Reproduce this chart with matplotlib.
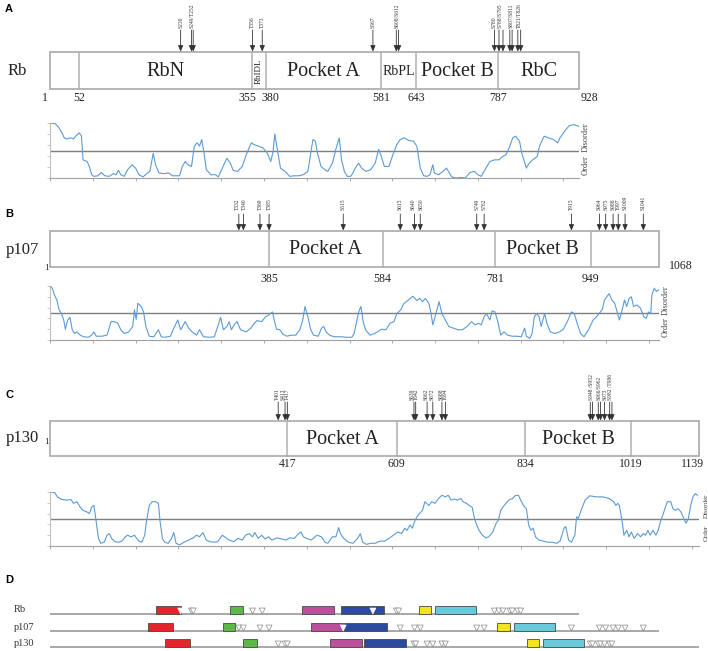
import matplotlib
matplotlib.use('Agg')
import matplotlib.pyplot as plt
from matplotlib.patches import Rectangle
import numpy as np

SERIF = ['Liberation Serif', 'DejaVu Serif']
SANS = ['Liberation Sans', 'DejaVu Sans']

# ---------------- data ----------------
rb_len = 928
rb_bounds = [1, 52, 355, 380, 581, 643, 787, 928]
rb_domains = ['', 'RbN', 'RbIDL', 'Pocket A', 'RbPL', 'Pocket B', 'RbC']
rb_sites = [230, 249, 252, 356, 373, 567, 608, 612, 780, 788, 795, 807, 811, 821, 826]
rb_site_labels = ['S230', 'S249/T252', 'T356', 'T373', 'S567', 'S608/S612',
                  'S780', 'S788/S795', 'S807/S811', 'T821/T826']
rb_label_pos = [230, 250, 356, 373, 567, 610, 780, 790, 809, 823]

p107_len = 1068
p107_bounds = [1, 385, 584, 781, 949, 1068]
p107_domains = ['', 'Pocket A', '', 'Pocket B', '']
p107_sites = [332, 340, 369, 385, 515, 615, 640, 650, 749, 762, 915,
              964, 975, 988, 997, 1009, 1041]
p107_site_labels = ['T332', 'T340', 'T369', 'T385', 'S515', 'S615', 'S640', 'S650',
                    'S749', 'S762', 'T915', 'S964', 'S975', 'S988', 'T997', 'S1009', 'S1041']
p107_label_pos = [330, 341, 369, 385, 515, 615, 638, 651, 749, 762, 915,
                  964, 975, 988, 998, 1009, 1041]

p130_len = 1139
p130_bounds = [1, 417, 609, 834, 1019, 1139]
p130_domains = ['', 'Pocket A', '', 'Pocket B', '']
p130_sites = [401, 413, 417, 639, 642, 662, 672, 688, 694, 948, 952, 962, 966, 973, 982, 986]
p130_site_labels = ['T401', 'S413', 'T417', 'S639', 'T642', 'S662', 'S672', 'S688', 'T694',
                    'S948 /S952', 'S966/S962', 'S973', 'S982 /T986']
p130_label_pos = [399, 409, 417, 636, 643, 660, 671, 686, 695, 950, 964, 974, 984]

# disorder profiles (residue, score)
rb_dis_pos = [1, 10, 17, 22, 26, 30, 38, 42, 46, 52, 56, 59, 66, 70, 74, 78, 85, 91, 97, 105,
              112, 117, 121, 125, 131, 137, 145, 151, 157, 164, 172, 176, 182, 186, 192, 200,
              209, 216, 228, 233, 238, 243, 249, 254, 259, 263, 267, 271, 275, 283, 291, 296,
              303, 311, 317, 322, 330, 338, 342, 346, 354, 358, 366, 374, 382, 388, 392, 395,
              399, 405, 413, 421, 429, 437, 445, 453, 459, 462, 466, 470, 476, 483, 488, 496,
              502, 508, 512, 517, 522, 528, 532, 536, 542, 547, 555, 563, 571, 577, 581, 587,
              595, 603, 609, 615, 622, 630, 638, 644, 650, 656, 662, 667, 672, 675, 682, 690,
              696, 701, 705, 713, 721, 729, 737, 745, 751, 757, 765, 772, 780, 788, 794, 800,
              806, 812, 817, 824, 828, 836, 841, 847, 855, 859, 867, 875, 883, 891, 895, 903,
              911, 919, 925, 928]
rb_dis_val = [1.00, 0.99, 0.91, 0.82, 0.73, 0.71, 0.73, 0.71, 0.76, 0.82, 0.77, 0.33, 0.30,
              0.21, 0.06, 0.03, 0.04, 0.10, 0.04, 0.03, 0.08, 0.06, 0.14, 0.06, 0.03, 0.15,
              0.24, 0.18, 0.06, 0.02, 0.09, 0.12, 0.45, 0.24, 0.09, 0.08, 0.09, 0.04, 0.04,
              0.21, 0.30, 0.24, 0.21, 0.58, 0.64, 0.58, 0.70, 0.45, 0.15, 0.06, 0.06, 0.02,
              0.18, 0.36, 0.27, 0.14, 0.12, 0.21, 0.33, 0.45, 0.64, 0.61, 0.58, 0.55, 0.45,
              0.30, 0.48, 0.80, 0.55, 0.18, 0.12, 0.03, 0.04, 0.04, 0.06, 0.12, 0.52, 0.70,
              0.67, 0.45, 0.21, 0.15, 0.12, 0.27, 0.52, 0.73, 0.33, 0.12, 0.03, 0.03, 0.09,
              0.18, 0.27, 0.18, 0.12, 0.15, 0.27, 0.52, 0.42, 0.21, 0.21, 0.45, 0.61, 0.70,
              0.73, 0.68, 0.67, 0.58, 0.18, 0.04, 0.03, 0.06, 0.24, 0.09, 0.06, 0.12, 0.18,
              0.09, 0.02, 0.00, 0.01, 0.00, 0.10, 0.12, 0.06, 0.03, 0.18, 0.30, 0.33, 0.33,
              0.39, 0.42, 0.55, 0.73, 0.76, 0.67, 0.45, 0.18, 0.27, 0.33, 0.39, 0.58, 0.76,
              0.73, 0.70, 0.64, 0.73, 0.85, 0.95, 0.97, 0.95, 0.94]

p107_dis_pos = [1, 5, 9, 13, 17, 21, 25, 28, 32, 36, 40, 44, 48, 54, 60, 68, 74, 78, 82, 92,
                101, 108, 114, 120, 125, 131, 139, 146, 149, 152, 155, 161, 165, 169, 175, 183,
                191, 196, 202, 212, 218, 225, 230, 238, 244, 250, 258, 263, 270, 281, 289, 296,
                300, 305, 311, 315, 319, 325, 329, 335, 345, 353, 359, 364, 372, 379, 384, 391,
                394, 398, 404, 409, 416, 424, 432, 439, 444, 448, 453, 458, 463, 471, 477, 481,
                485, 491, 499, 511, 522, 530, 534, 538, 542, 546, 550, 554, 562, 570, 575, 582,
                590, 597, 604, 609, 616, 621, 629, 637, 644, 649, 654, 659, 665, 669, 672, 676,
                683, 688, 694, 700, 708, 716, 724, 732, 740, 746, 752, 757, 762, 766, 772, 776,
                781, 786, 791, 797, 803, 811, 819, 827, 833, 836, 842, 846, 850, 854, 858, 862,
                868, 872, 878, 886, 894, 901, 909, 915, 920, 925, 931, 937, 945, 953, 959, 965,
                969, 973, 977, 981, 986, 991, 994, 999, 1004, 1008, 1012, 1016, 1020, 1024,
                1030, 1036, 1042, 1046, 1050, 1054, 1056, 1060, 1064, 1068]
p107_dis_val = [1.00, 0.96, 0.83, 0.74, 0.56, 0.49, 0.37, 0.20, 0.37, 0.42, 0.19, 0.12, 0.15,
                0.09, 0.06, 0.05, 0.09, 0.15, 0.07, 0.07, 0.09, 0.34, 0.34, 0.31, 0.19, 0.12,
                0.15, 0.25, 0.56, 0.38, 0.68, 0.62, 0.52, 0.25, 0.07, 0.06, 0.19, 0.06, 0.05,
                0.07, 0.22, 0.37, 0.19, 0.34, 0.22, 0.15, 0.09, 0.19, 0.06, 0.05, 0.06, 0.28,
                0.42, 0.19, 0.25, 0.34, 0.19, 0.30, 0.34, 0.19, 0.15, 0.22, 0.31, 0.36, 0.34,
                0.43, 0.46, 0.52, 0.37, 0.20, 0.19, 0.11, 0.07, 0.09, 0.09, 0.19, 0.37, 0.62,
                0.43, 0.19, 0.09, 0.07, 0.22, 0.25, 0.15, 0.09, 0.06, 0.06, 0.05, 0.05, 0.12,
                0.31, 0.52, 0.62, 0.34, 0.19, 0.09, 0.12, 0.15, 0.20, 0.19, 0.31, 0.34, 0.49,
                0.56, 0.67, 0.74, 0.81, 0.73, 0.77, 0.71, 0.77, 0.68, 0.49, 0.28, 0.43, 0.71,
                0.49, 0.37, 0.25, 0.22, 0.19, 0.19, 0.25, 0.34, 0.28, 0.31, 0.28, 0.43, 0.49,
                0.37, 0.54, 0.52, 0.34, 0.09, 0.15, 0.09, 0.07, 0.07, 0.06, 0.22, 0.07, 0.03,
                0.12, 0.43, 0.49, 0.44, 0.25, 0.49, 0.31, 0.15, 0.12, 0.15, 0.20, 0.37, 0.52,
                0.49, 0.31, 0.12, 0.06, 0.19, 0.37, 0.43, 0.51, 0.57, 0.74, 0.80, 0.86, 0.74,
                0.68, 0.56, 0.37, 0.56, 0.74, 0.62, 0.77, 0.80, 0.62, 0.65, 0.59, 0.43, 0.40,
                0.52, 0.49, 0.83, 0.96, 0.90, 0.93]

p130_dis_pos = [1, 9, 14, 22, 30, 38, 42, 48, 54, 59, 66, 70, 74, 78, 82, 86, 90, 96, 101, 105,
                109, 115, 121, 127, 133, 137, 143, 149, 153, 157, 162, 167, 170, 175, 180, 186,
                191, 194, 198, 202, 208, 214, 218, 222, 228, 236, 244, 252, 258, 263, 269, 275,
                281, 289, 295, 303, 307, 315, 323, 330, 338, 344, 350, 356, 360, 366, 372, 378,
                384, 390, 399, 407, 415, 421, 429, 437, 441, 445, 451, 459, 469, 477, 483, 488,
                496, 502, 507, 510, 516, 524, 532, 540, 545, 549, 556, 563, 571, 579, 587, 595,
                603, 611, 617, 623, 627, 632, 636, 641, 646, 654, 658, 665, 670, 676, 682, 688,
                694, 699, 704, 710, 715, 721, 725, 731, 737, 741, 745, 749, 753, 759, 765, 770,
                777, 783, 787, 791, 797, 805, 812, 816, 822, 826, 831, 836, 840, 844, 848, 852,
                858, 866, 873, 881, 889, 895, 902, 905, 910, 915, 921, 924, 927, 933, 939, 947,
                958, 970, 981, 989, 993, 996, 999, 1004, 1007, 1012, 1016, 1020, 1025, 1031,
                1036, 1041, 1045, 1049, 1053, 1058, 1063, 1067, 1071, 1077, 1083, 1089, 1093,
                1097, 1102, 1107, 1112, 1116, 1120, 1124, 1128, 1132, 1136]
p130_dis_val = [1.00, 0.99, 0.91, 0.86, 0.85, 0.86, 0.79, 0.82, 0.72, 0.66, 0.63, 0.60, 0.72,
                0.75, 0.45, 0.14, 0.05, 0.07, 0.20, 0.23, 0.14, 0.08, 0.07, 0.09, 0.17, 0.20,
                0.17, 0.20, 0.14, 0.09, 0.07, 0.20, 0.45, 0.75, 0.82, 0.82, 0.79, 0.45, 0.14,
                0.07, 0.05, 0.14, 0.25, 0.05, 0.02, 0.07, 0.11, 0.15, 0.20, 0.17, 0.25, 0.11,
                0.08, 0.07, 0.08, 0.20, 0.17, 0.11, 0.08, 0.14, 0.11, 0.20, 0.23, 0.17, 0.25,
                0.14, 0.20, 0.13, 0.17, 0.11, 0.15, 0.13, 0.11, 0.15, 0.14, 0.23, 0.26, 0.17,
                0.14, 0.11, 0.20, 0.17, 0.07, 0.05, 0.17, 0.17, 0.34, 0.23, 0.14, 0.07, 0.05,
                0.14, 0.23, 0.07, 0.03, 0.05, 0.05, 0.09, 0.09, 0.14, 0.20, 0.26, 0.23, 0.33,
                0.29, 0.39, 0.33, 0.48, 0.57, 0.66, 0.82, 0.75, 0.82, 0.79, 0.88, 0.94, 0.91,
                0.94, 0.85, 0.87, 0.85, 0.88, 0.82, 0.79, 0.74, 0.72, 0.51, 0.39, 0.29, 0.20,
                0.15, 0.17, 0.26, 0.42, 0.48, 0.66, 0.75, 0.85, 0.88, 0.93, 0.94, 0.85, 0.75,
                0.69, 0.39, 0.29, 0.33, 0.17, 0.11, 0.09, 0.07, 0.07, 0.05, 0.09, 0.33, 0.36,
                0.11, 0.07, 0.20, 0.54, 0.51, 0.69, 0.85, 0.93, 0.91, 0.91, 0.88, 0.82, 0.75,
                0.79, 0.75, 0.45, 0.20, 0.29, 0.17, 0.26, 0.14, 0.23, 0.17, 0.23, 0.20, 0.29,
                0.20, 0.29, 0.20, 0.29, 0.45, 0.63, 0.82, 0.82, 0.69, 0.66, 0.69, 0.63, 0.51,
                0.42, 0.51, 0.75, 0.91, 0.97, 0.94]

# panel D: binding/structural motifs (start, end residue) per protein
motif_colors = ['#e8232a', '#5cb947', '#b8509c', '#2c4b9e', '#f4e51b', '#68c9da']
rb_motif_start = [186, 317, 442, 511, 647, 676]
rb_motif_end = [230, 340, 498, 586, 668, 748]
p107_motif_start = [172, 304, 459, 516, 785, 814]
p107_motif_end = [216, 325, 514, 591, 808, 886]
p130_motif_start = [202, 339, 492, 552, 837, 865]
p130_motif_end = [246, 363, 548, 625, 859, 937]

# ---------------- layout ----------------
W, H = 708, 651
fig = plt.figure(figsize=(W / 100, H / 100), dpi=100)

X0 = 50
S = 0.5705  # px per residue


def rect(x0, y0, x1, y1):
    return [x0 / W, 1 - y1 / H, (x1 - x0) / W, (y1 - y0) / H]


def xend(L):
    return X0 + (L - 1) * S


ov = fig.add_axes([0, 0, 1, 1])
ov.set_xlim(0, W)
ov.set_ylim(H, 0)
ov.axis('off')


def track_axes(L):
    ax = fig.add_axes(rect(X0, 0, xend(L), H))
    ax.set_xlim(1, L)
    ax.set_ylim(H, 0)
    ax.axis('off')
    ax.patch.set_alpha(0)
    return ax


BOX_EC = '#b0b0b0'


def draw_protein(ax, L, bounds, names, sizes, box_top, box_bot,
                 sites, labels, label_pos, arrow_top, gap):
    ax.add_patch(Rectangle((1, box_top), L - 1, box_bot - box_top, fc='white',
                           ec=BOX_EC, lw=1.3, zorder=1, clip_on=False))
    for b in bounds[1:-1]:
        ax.plot([b, b], [box_top, box_bot], color=BOX_EC, lw=1.1, zorder=2,
                clip_on=False)
    ymid = (box_top + box_bot) / 2
    for i, nm in enumerate(names):
        if not nm:
            continue
        xc = (bounds[i] + bounds[i + 1]) / 2
        fs, rot = sizes[i]
        ax.text(xc, ymid + 1, nm, ha='center', va='center', fontsize=fs,
                rotation=rot, family=SERIF, color='#222', zorder=3)
    for s in sites:
        ax.annotate('', xy=(s, box_top - 0.5), xytext=(s, arrow_top),
                    arrowprops=dict(arrowstyle='-|>,head_length=0.5,head_width=0.22',
                                    color='#333', lw=0.6, shrinkA=0, shrinkB=0,
                                    mutation_scale=7),
                    annotation_clip=False)
    for lab, p in zip(labels, label_pos):
        ax.text(p, arrow_top - gap, lab, rotation=90, ha='center', va='bottom',
                fontsize=4, family=SERIF, color='#333')


def tick_label(ax, pos, y, txt, ha='center', dx=0.0, fs=8.5):
    ax.text(pos + dx / S, y, txt, ha=ha, va='center', fontsize=fs,
            family=SERIF, color='#222')


def disorder_axes(L, top, bot, pos, vals, fs=6):
    dax = fig.add_axes(rect(X0, top, xend(L), bot))
    dax.set_xlim(1, L)
    dax.set_ylim(0, 1)
    dax.patch.set_alpha(0)
    dax.plot(pos, vals, color='#5b9bd5', lw=0.8, zorder=3)
    dax.axhline(0.5, color='#7f7f7f', lw=1.0, zorder=2)
    for sp in ['top', 'right']:
        dax.spines[sp].set_visible(False)
    dax.spines['left'].set_color('#c0c0c0')
    dax.spines['bottom'].set_color('#a0a0a0')
    dax.spines['left'].set_linewidth(0.8)
    dax.spines['bottom'].set_linewidth(0.8)
    dax.set_xticks(np.arange(1, L + 1, 75))
    dax.set_yticks(np.linspace(0, 1, 6))
    dax.tick_params(axis='x', length=2.5, width=0.6, colors='#a0a0a0', labelbottom=False)
    dax.tick_params(axis='y', length=2, width=0.6, colors='#c0c0c0', labelleft=False)
    xr = L + 7 / S
    dax.text(xr, 0.74, 'Disorder', rotation=90, ha='center', va='center',
             fontsize=fs, family=SERIF, color='#444', clip_on=False)
    dax.text(xr, 0.24, 'Order', rotation=90, ha='center', va='center',
             fontsize=fs, family=SERIF, color='#444', clip_on=False)
    return dax


# ---------------- panel A ----------------
ov.text(5, 9, 'A', fontsize=8, fontweight='bold', family=SANS, va='center', ha='left')
ov.text(8, 71, 'Rb', fontsize=12, family=SERIF, va='center', ha='left', color='#222')
ax_rb = track_axes(rb_len)
rb_sizes = [(14.5, 0), (14.5, 0), (6.5, 90), (14.5, 0), (10, 0), (14.5, 0), (14.5, 0)]
draw_protein(ax_rb, rb_len, rb_bounds, rb_domains, rb_sizes, 52, 89,
             rb_sites, rb_site_labels, rb_label_pos, 30, 2)
for b in rb_bounds:
    if b == 1:
        tick_label(ax_rb, b, 98, '1', ha='right', dx=-2)
    elif b == 928:
        tick_label(ax_rb, b, 98, '928', ha='left', dx=2)
    elif b == 355:
        tick_label(ax_rb, b, 98, '355', ha='right', dx=4)
    elif b == 380:
        tick_label(ax_rb, b, 98, '380', ha='left', dx=-5)
    else:
        tick_label(ax_rb, b, 98, str(b))
disorder_axes(rb_len, 123, 178, rb_dis_pos, rb_dis_val)

# ---------------- panel B ----------------
ov.text(5, 214, 'B', fontsize=8, fontweight='bold', family=SANS, va='center', ha='left')
ov.text(6, 250, 'p107', fontsize=12, family=SERIF, va='center', ha='left', color='#222')
ax_107 = track_axes(p107_len)
pk_sizes = [(14.5, 0)] * 5
draw_protein(ax_107, p107_len, p107_bounds, p107_domains, pk_sizes, 231, 267,
             p107_sites, p107_site_labels, p107_label_pos, 214, 4)
tick_label(ax_107, 1, 268, '1', ha='right', dx=-1, fs=6.5)
tick_label(ax_107, p107_len, 266, '1068', ha='left', dx=10)
for b in p107_bounds[1:-1]:
    tick_label(ax_107, b, 279, str(b))
disorder_axes(p107_len, 286, 340, p107_dis_pos, p107_dis_val)

# ---------------- panel C ----------------
ov.text(5, 395, 'C', fontsize=8, fontweight='bold', family=SANS, va='center', ha='left')
ov.text(6, 438, 'p130', fontsize=12, family=SERIF, va='center', ha='left', color='#222')
ax_130 = track_axes(p130_len)
draw_protein(ax_130, p130_len, p130_bounds, p130_domains, pk_sizes, 421, 456,
             p130_sites, p130_site_labels, p130_label_pos, 402, 2)
tick_label(ax_130, 1, 442, '1', ha='right', dx=-1.5, fs=6.5)
for b in p130_bounds[1:]:
    if b == p130_len:
        tick_label(ax_130, b, 464, str(b), ha='right', dx=5)
    else:
        tick_label(ax_130, b, 464, str(b))
disorder_axes(p130_len, 492, 546, p130_dis_pos, p130_dis_val, fs=5)

# ---------------- panel D ----------------
ov.text(5, 580, 'D', fontsize=8, fontweight='bold', family=SANS, va='center', ha='left')


def motif_track(ax, L, line_y, starts, ends, sites, name):
    ov.text(14, line_y - 4, name, fontsize=7.5, family=SERIF, va='center',
            ha='left', color='#333')
    ax.plot([1, L], [line_y, line_y], color='#9a9a9a', lw=1.2, zorder=1,
            solid_capstyle='butt', clip_on=False)
    for st, en, c in zip(starts, ends, motif_colors):
        ax.add_patch(Rectangle((st, line_y - 8), en - st, 8, fc=c, ec='#4a4a4a',
                               lw=0.6, zorder=2, clip_on=False))
    ecs = []
    for s in sites:
        inside = any(st - 1 <= s <= en + 1 for st, en in zip(starts, ends))
        ecs.append('white' if inside else '#8a8a8a')
    ax.scatter(sites, [line_y - 3.0] * len(sites), marker='v', s=18,
               facecolors='white', edgecolors=ecs, linewidths=0.5, zorder=3,
               clip_on=False)


motif_track(ax_rb, rb_len, 614, rb_motif_start, rb_motif_end, rb_sites, 'Rb')
motif_track(ax_107, p107_len, 631, p107_motif_start, p107_motif_end, p107_sites, 'p107')
motif_track(ax_130, p130_len, 647, p130_motif_start, p130_motif_end, p130_sites, 'p130')

fig.savefig('out.png', dpi=100)
